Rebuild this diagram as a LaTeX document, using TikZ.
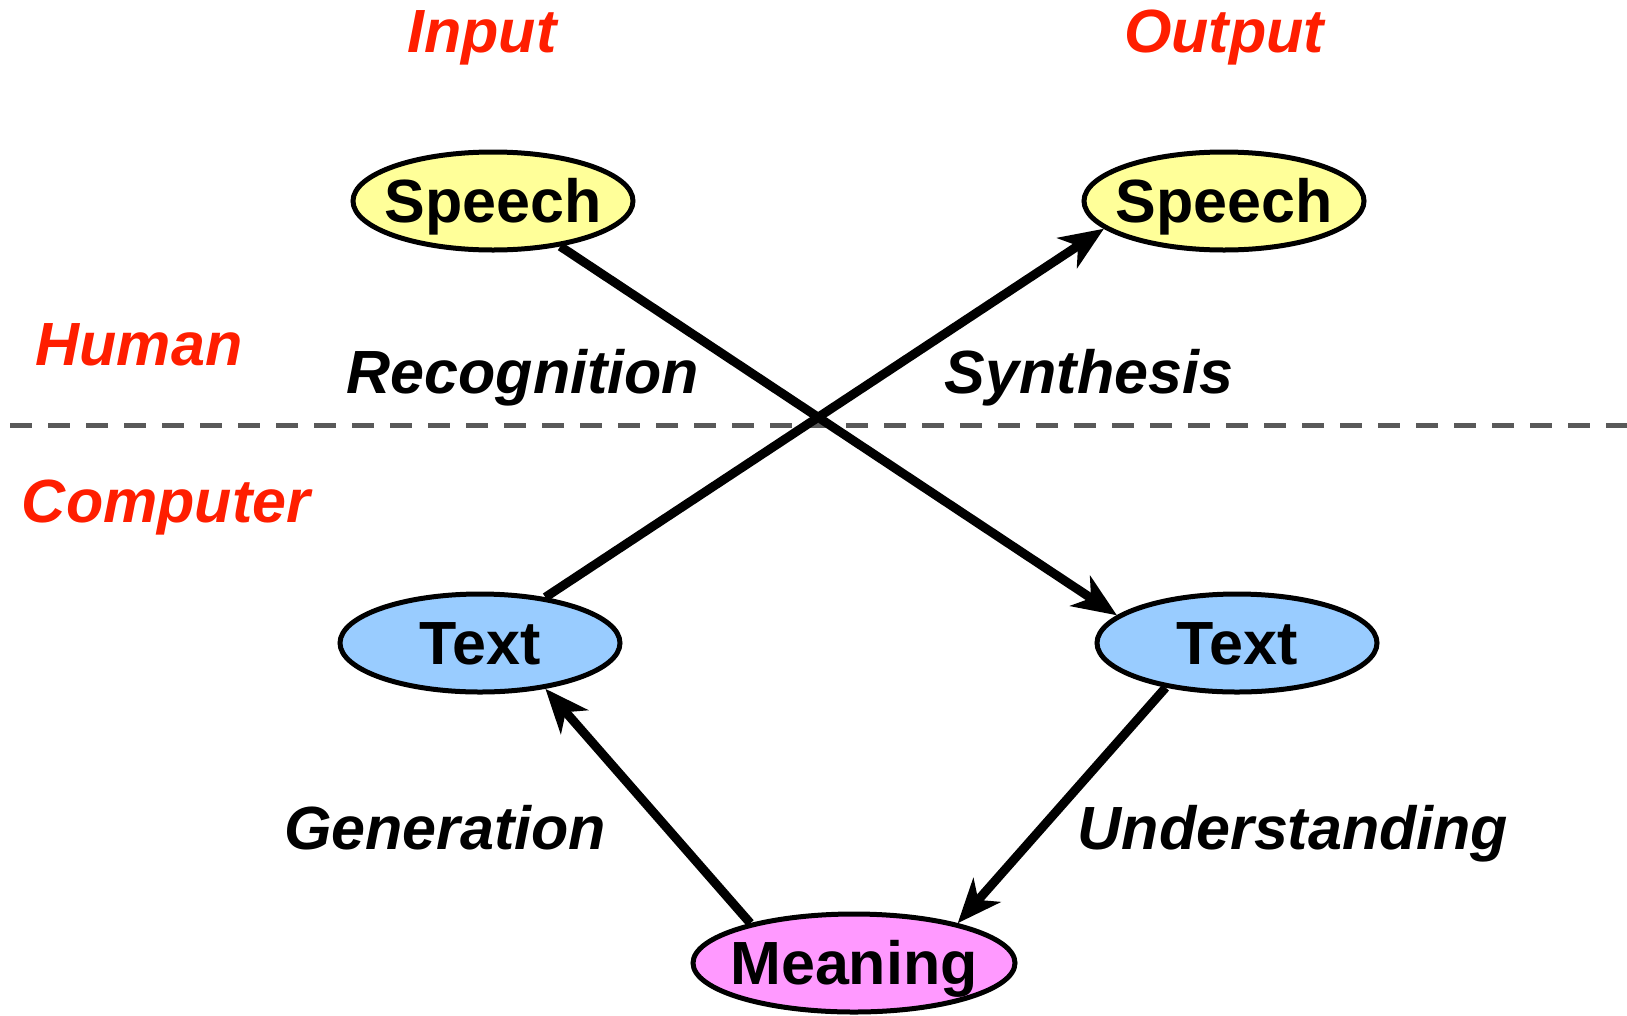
\documentclass[tikz,border=0pt]{standalone}
\usepackage{fontspec}
\setmainfont{Liberation Sans}
\usetikzlibrary{shapes.geometric,arrows.meta}
\definecolor{labelred}{RGB}{255,30,0}
\definecolor{speechfill}{RGB}{255,255,153}
\definecolor{textfill}{RGB}{153,204,255}
\definecolor{meanfill}{RGB}{255,153,255}
\tikzset{
    blob/.style={ellipse,draw,line width=5pt,minimum width=280pt,minimum height=98pt,inner xsep=-25pt,inner ysep=0pt,text height=43pt,text depth=0pt,font=\fontsize{61}{61}\selectfont\bfseries},
    sound/.style={blob,fill=speechfill},
    written/.style={blob,fill=textfill},
    sense/.style={blob,fill=meanfill,minimum width=322pt},
    side/.style={anchor=base,text=labelred,font=\fontsize{61}{61}\selectfont\bfseries\itshape},
    task/.style={anchor=base,font=\fontsize{61}{61}\selectfont\bfseries\itshape},
    flow/.style={line width=9pt,-{Stealth[length=44pt,width=36pt,inset=13pt]}},
    divide/.style={line width=5pt,draw=black!65,dash pattern=on 22pt off 16pt}
}
\def\lrow{201}
\def\trow{643}

\begin{document}
\begin{tikzpicture}[x=1pt,y=-1pt]
  \useasboundingbox (0,0) rectangle (1627,1015);

  % Human / computer border
  \coordinate (dl) at (10,425);
  \coordinate (dr) at (1627,425);
  \draw[divide] (dl) -- (dr);

  % Headings
  \node[side] (input) at (482,52) {Input};
  \node[side] (output) at (1224,52) {Output};
  \node[side] (human) at (139,365) {Human};
  \node[side] (computer) at (166,522) {Computer};

  % Nodes
  \node[sound] (speechin) at (493,\lrow) {Speech};
  \node[sound] (speechout) at (1224,\lrow) {Speech};
  \node[written] (textin) at (480,\trow) {Text};
  \node[written] (textout) at (1237,\trow) {Text};
  \node[sense] (meaning) at (854,963) {Meaning};

  % Steps
  \node[task] (recog) at (523,393) {Recognition};
  \node[task] (synth) at (1089,393) {Synthesis};
  \node[task] (gener) at (445,849) {Generation};
  \node[task] (under) at (1293,849) {Understanding};

  % Arrows
  \draw[flow] (speechin.-34) -- (textout.167);
  \draw[flow] (textin.35) -- (speechout.-167);
  \draw[flow] (textout.-148) -- (meaning.21);
  \draw[flow] (meaning.159) -- (textin.-35);
\end{tikzpicture}
\end{document}
